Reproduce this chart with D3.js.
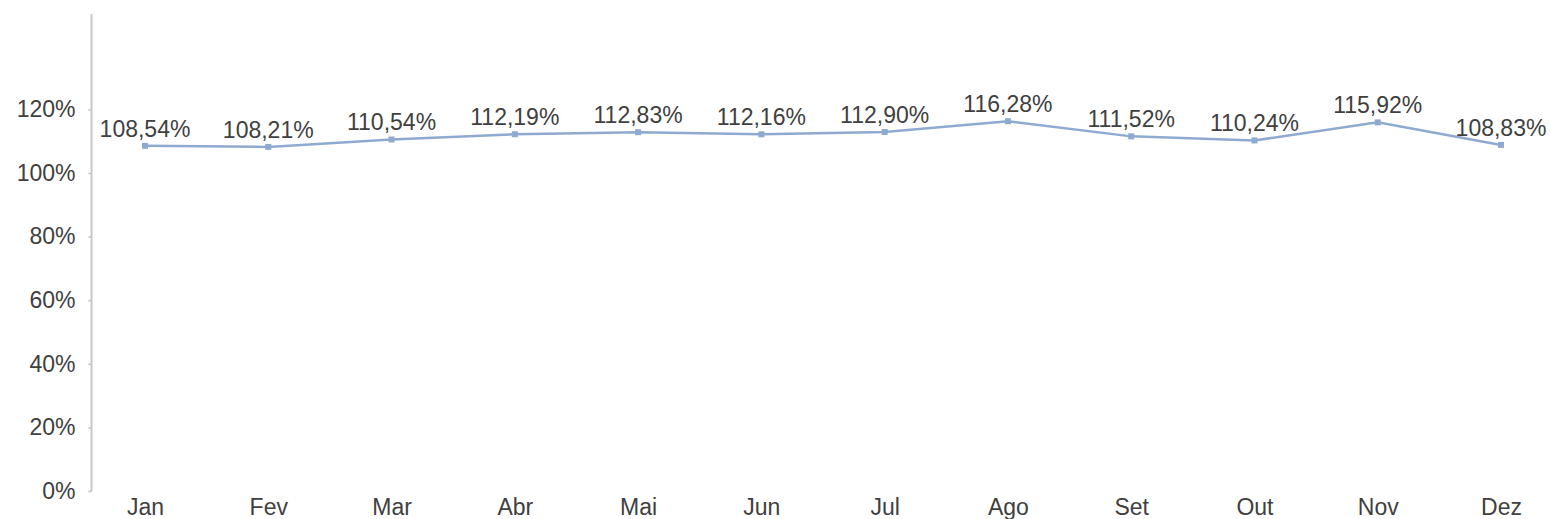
<!DOCTYPE html>
<html lang="pt">
    <head>
        <meta charset="utf-8">
        <title>Chart</title>
        <script type="text/javascript" src="https://d3js.org/d3.v7.min.js"></script>
        <style>
            body { margin: 0; background: #fff; }
            svg { display: block; }
            text { font-family: "Liberation Sans", Arial, sans-serif; fill: #404040; }
            .axis text { font-size: 23px; }
        </style>
    </head>
    <body>
        <script>
            // data
            const months = ["Jan","Fev","Mar","Abr","Mai","Jun","Jul","Ago","Set","Out","Nov","Dez"];
            const values = [108.54, 108.21, 110.54, 112.19, 112.83, 112.16, 112.90, 116.28, 111.52, 110.24, 115.92, 108.83];
            const yTicks = [0, 20, 40, 60, 80, 100, 120];

            const w = 1551;
            const h = 519;
            const svg = d3.select("body").append("svg")
                .attr("width", w)
                .attr("height", h);

            const axisX = 91.5;

            // scales
            const xScale = d3.scalePoint()
                .domain(months)
                .range([145, 1501]);
            const yScale = d3.scaleLinear()
                .domain([0, 150])
                .range([491, 14]);

            const fmt = v => v.toFixed(2).replace(".", ",") + "%";

            // y axis
            const yAxis = d3.axisLeft(yScale)
                .tickValues(yTicks)
                .tickSize(3)
                .tickPadding(13)
                .tickFormat(d => d + "%");
            const gy = svg.append("g")
                .attr("class", "axis")
                .attr("transform", `translate(${axisX},0)`)
                .call(yAxis);
            gy.select(".domain").remove();
            gy.selectAll(".tick line").attr("stroke", "#bfbfbf").attr("stroke-width", 1.5);
            gy.append("line")
                .attr("x1", 0).attr("x2", 0)
                .attr("y1", yScale(150)).attr("y2", yScale(0))
                .attr("stroke", "#c8c8c8")
                .attr("stroke-width", 2);

            // x axis labels
            const xAxis = d3.axisBottom(xScale).tickSize(0).tickPadding(8);
            const gx = svg.append("g")
                .attr("class", "axis")
                .attr("transform", `translate(0,${yScale(0)})`)
                .call(xAxis);
            gx.select(".domain").remove();

            // line
            const line = d3.line()
                .x((d, i) => xScale(months[i]))
                .y(d => yScale(d));
            svg.append("path")
                .datum(values)
                .attr("fill", "none")
                .attr("stroke", "#8eaad0")
                .attr("stroke-width", 2.5)
                .attr("d", line);

            // markers
            svg.selectAll("rect.marker")
                .data(values)
                .enter()
                .append("rect")
                .attr("class", "marker")
                .attr("x", (d, i) => xScale(months[i]) - 3)
                .attr("y", d => yScale(d) - 3)
                .attr("width", 6)
                .attr("height", 6)
                .attr("fill", "#8eaad0");

            // labels
            svg.selectAll("text.label")
                .data(values)
                .enter()
                .append("text")
                .attr("class", "label")
                .attr("x", (d, i) => xScale(months[i]))
                .attr("y", d => yScale(d) - 9)
                .attr("text-anchor", "middle")
                .attr("font-size", "23px")
                .text(fmt);
        </script>
    </body>
</html>
